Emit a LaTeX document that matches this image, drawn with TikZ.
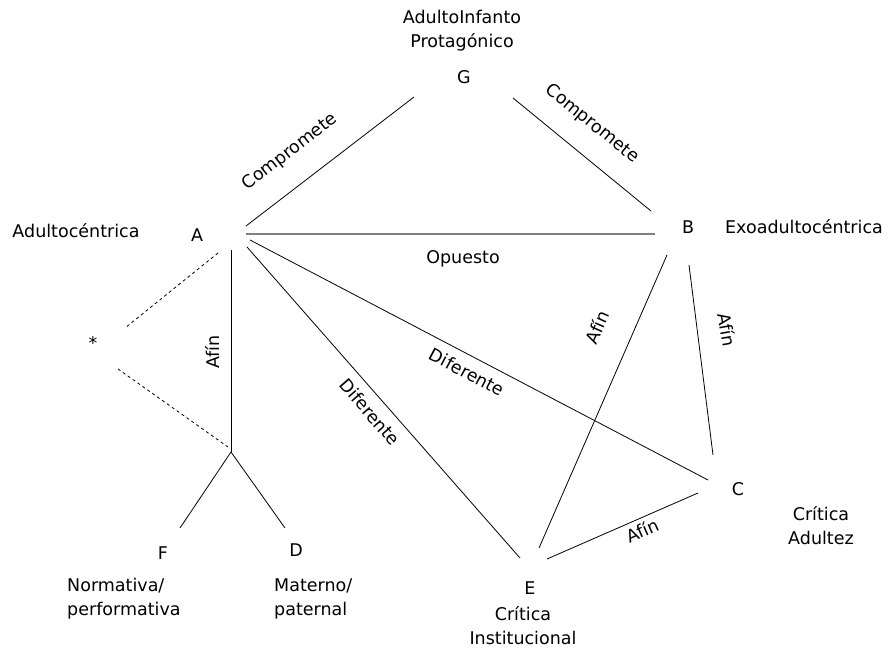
\documentclass[tikz,border=0pt]{standalone}
\usepackage{fontspec}
\setmainfont{DejaVu Sans}
\begin{document}
\begin{tikzpicture}[x=1pt,y=-1pt,
  lbl/.style={font=\fontsize{17.5}{20}\selectfont, inner sep=0pt},
  ln/.style={line width=0.8pt, black},
  dsh/.style={line width=0.8pt, dash pattern=on 3pt off 3pt},
  grayln/.style={line width=1.2pt, gray}]
\useasboundingbox (0,0) rectangle (891,655);
% letters
\node[lbl] (G) at (464,77) {G};
\node[lbl] (A) at (197,235) {A};
\node[lbl] (B) at (688,227) {B};
\node[lbl] (C) at (738,489) {C};
\node[lbl] (D) at (296,550) {D};
\node[lbl] (E) at (530,588) {E};
\node[lbl] (F) at (163,553) {F};
\node[lbl] (S) at (93,343) {*};
% descriptions
\node[lbl] (tA) at (76,231) {Adultocéntrica};
\node[lbl] (tB) at (804,227) {Exoadultocéntrica};
\node[lbl, align=center] (tG) at (462,31) {AdultoInfanto\\[4pt]Protagónico};
\node[lbl, align=center] (tC) at (821,526) {Crítica\\[4pt]Adultez};
\node[lbl, align=left, anchor=west] (tF) at (67,599) {Normativa/\\[4pt]performativa};
\node[lbl, align=left, anchor=west] (tD) at (274,599) {Materno/\\[4pt]paternal};
\node[lbl, align=center] (tE) at (523,626) {Crítica\\[4pt]Institucional};
% endpoints
\coordinate (a1) at (246,226); \coordinate (g1) at (414,97);
\coordinate (g2) at (513,98);  \coordinate (b1) at (651,211);
\coordinate (a2) at (246,234); \coordinate (b2) at (655,234);
\coordinate (a3) at (250,240); \coordinate (c1) at (708,480);
\coordinate (a4) at (247,247); \coordinate (e1) at (520,558);
\coordinate (a5) at (231,250); \coordinate (fk) at (231,452);
\coordinate (f1) at (180,528); \coordinate (d1) at (285,528);
\coordinate (a6) at (218,253); \coordinate (s1) at (125,328);
\coordinate (s2) at (118,369); \coordinate (fk2) at (228,447);
\coordinate (b3) at (667,255); \coordinate (e2) at (539,548);
\coordinate (b4) at (689,265); \coordinate (c2) at (713,455);
\coordinate (c3) at (698,493); \coordinate (e3) at (547,559);
% connectors
\draw[ln] (a1) -- (g1);
\draw[ln] (g2) -- (b1);
\draw[grayln] (a2) -- (b2);
\draw[ln] (a3) -- (c1);
\draw[ln] (a4) -- (e1);
\draw[ln] (a5) -- (fk);
\draw[ln] (fk) -- (f1);
\draw[ln] (fk) -- (d1);
\draw[dsh] (a6) -- (s1);
\draw[dsh] (s2) -- (fk2);
\draw[ln] (b3) -- (e2);
\draw[ln] (b4) -- (c2);
\draw[ln] (c3) -- (e3);
% edge labels
\node[lbl, rotate=37.5] (l1) at (290,152) {Compromete};
\node[lbl, rotate=-39] (l2) at (592,124) {Compromete};
\node[lbl] (l3) at (463,259) {Opuesto};
\node[lbl, rotate=90] (l4) at (212,352) {Afín};
\node[lbl, rotate=-28] (l5) at (467,372) {Diferente};
\node[lbl, rotate=-49] (l6) at (370,412) {Diferente};
\node[lbl, rotate=66] (l7) at (597,327) {Afín};
\node[lbl, rotate=-80] (l8) at (727,330) {Afín};
\node[lbl, rotate=24] (l9) at (642,530) {Afín};
\end{tikzpicture}
\end{document}
